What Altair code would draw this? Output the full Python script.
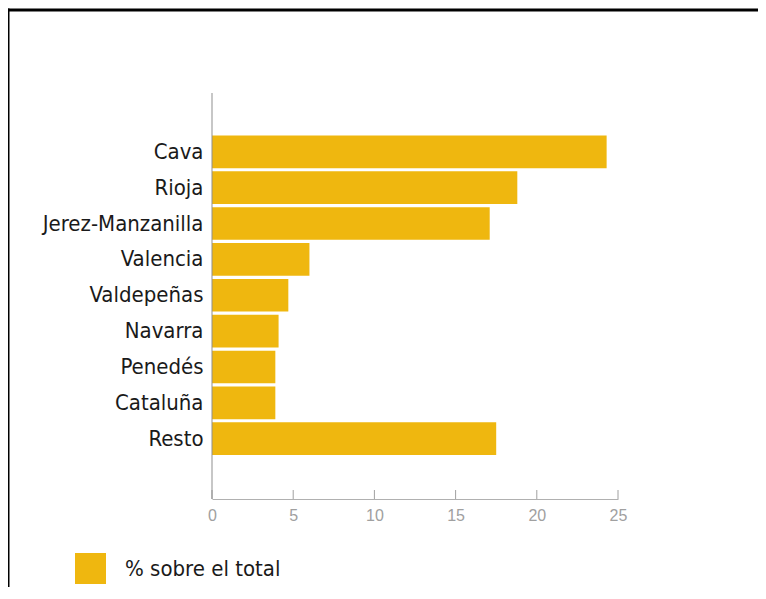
import altair as alt
import pandas as pd

categorias = ["Cava", "Rioja", "Jerez-Manzanilla", "Valencia", "Valdepeñas",
              "Navarra", "Penedés", "Cataluña", "Resto"]
valores = [24.3, 18.8, 17.1, 6.0, 4.7, 4.1, 3.9, 3.9, 17.5]
marcas_eje = [0, 5, 10, 15, 20, 25]
serie = "% sobre el total"

FONT = "Liberation Sans Narrow, DejaVu Sans Condensed, Roboto Condensed, Liberation Sans, sans-serif"

df = pd.DataFrame({"categoria": categorias, "valor": valores, "serie": [serie] * len(categorias)})
df_ticks = pd.DataFrame({"valor": marcas_eje})
df_one = pd.DataFrame({"a": [0]})

x_axis = alt.Axis(values=marcas_eje, ticks=False, tickSize=0, grid=False, labelFlush=False,
                  labelPadding=8, labelBaseline="top", labelFont="Liberation Sans, sans-serif",
                  labelFontSize=16, labelColor="#a0a0a0", domainColor="#b0b0b0",
                  domainWidth=1)

bars = alt.Chart(df).mark_bar().encode(
    y=alt.Y("categoria:N", sort=categorias, title=None,
            scale=alt.Scale(paddingInner=0.09, paddingOuter=0, range=[41.5, 361]),
            axis=alt.Axis(ticks=False, domain=False, labelPadding=9, labelFont=FONT,
                          labelFontSize=22, labelColor="#1a1a1a", labelLimit=300)),
    x=alt.X("valor:Q", title=None, scale=alt.Scale(domain=[0, 25], nice=False), axis=x_axis),
    color=alt.Color("serie:N", scale=alt.Scale(range=["#EFB70F"]),
                    legend=alt.Legend(title=None, orient="none", legendX=-137, legendY=459,
                                      symbolType="square", symbolSize=961, symbolStrokeWidth=0,
                                      labelFont=FONT, labelFontSize=22, labelColor="#1a1a1a",
                                      labelOffset=19, padding=0, labelLimit=400)),
)

ticks = alt.Chart(df_ticks).mark_rule(color="#a0a0a0", strokeWidth=1).encode(
    x=alt.X("valor:Q", title=None, axis=x_axis),
    y=alt.value(405),
    y2=alt.value(396),
)

y_axis_line = alt.Chart(df_one).mark_rule(color="#8f8f8f", strokeWidth=1).encode(
    x=alt.value(0), y=alt.value(-1), y2=alt.value(405))

frame_top_grey = alt.Chart(df_one).mark_rule(color="#c0c0c0", strokeWidth=1).encode(
    x=alt.value(-206), x2=alt.value(560), y=alt.value(-86.5))
frame_top = alt.Chart(df_one).mark_rule(color="#000000", strokeWidth=3).encode(
    x=alt.value(-205.5), x2=alt.value(560), y=alt.value(-84))
frame_left = alt.Chart(df_one).mark_rule(color="#000000", strokeWidth=3).encode(
    x=alt.value(-204), y=alt.value(-85.5), y2=alt.value(520))

chart = alt.layer(bars, ticks, y_axis_line, frame_top_grey, frame_top, frame_left).properties(
    width=406, height=405,
    autosize=alt.AutoSizeParams(type="none"),
    padding={"left": 204, "top": 86, "right": 140, "bottom": 88},
    background="white",
).configure_view(stroke=None)

chart.save("out.html", embed_options={"renderer": "svg", "actions": False})
